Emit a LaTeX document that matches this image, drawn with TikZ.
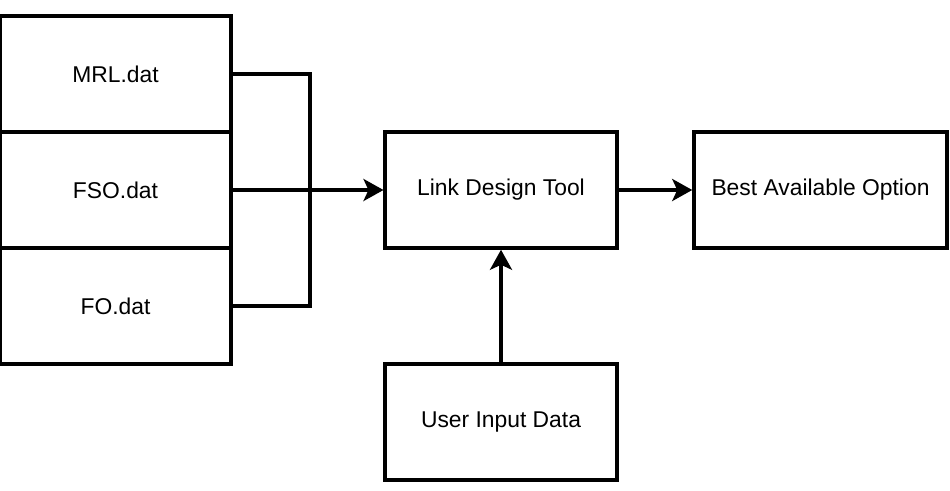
\documentclass[tikz,border=0pt]{standalone}
\usepackage{fontspec}
\setmainfont{Liberation Sans}
\usetikzlibrary{arrows.meta}
\begin{document}
\begin{tikzpicture}[line width=2pt, >={Stealth[length=0.4cm,width=0.44cm,inset=0.1cm]},
  box/.style={draw, rectangle, minimum width=4.63cm, minimum height=2.32cm, inner sep=0pt, font=\fontsize{13}{15}\selectfont}]
  \useasboundingbox (0,0) rectangle (19,9.8);
  \node[box] (mrl) at (2.31,8.32) {MRL.dat};
  \node[box] (fso) at (2.31,6.0) {FSO.dat};
  \node[box] (fo) at (2.31,3.68) {FO.dat};
  \node[box] (link) at (10.02,6.0) {Link Design Tool};
  \node[box, minimum width=5.06cm] (best) at (16.41,6.0) {Best Available Option};
  \node[box] (user) at (10.02,1.36) {User Input Data};
  \draw (mrl.east) -- ++(1.54,0) |- (fo.east);
  \draw[->] (fso.east) -- (link.west);
  \draw[->] (link.east) -- (best.west);
  \draw[->] (user.north) -- (link.south);
\end{tikzpicture}
\end{document}
